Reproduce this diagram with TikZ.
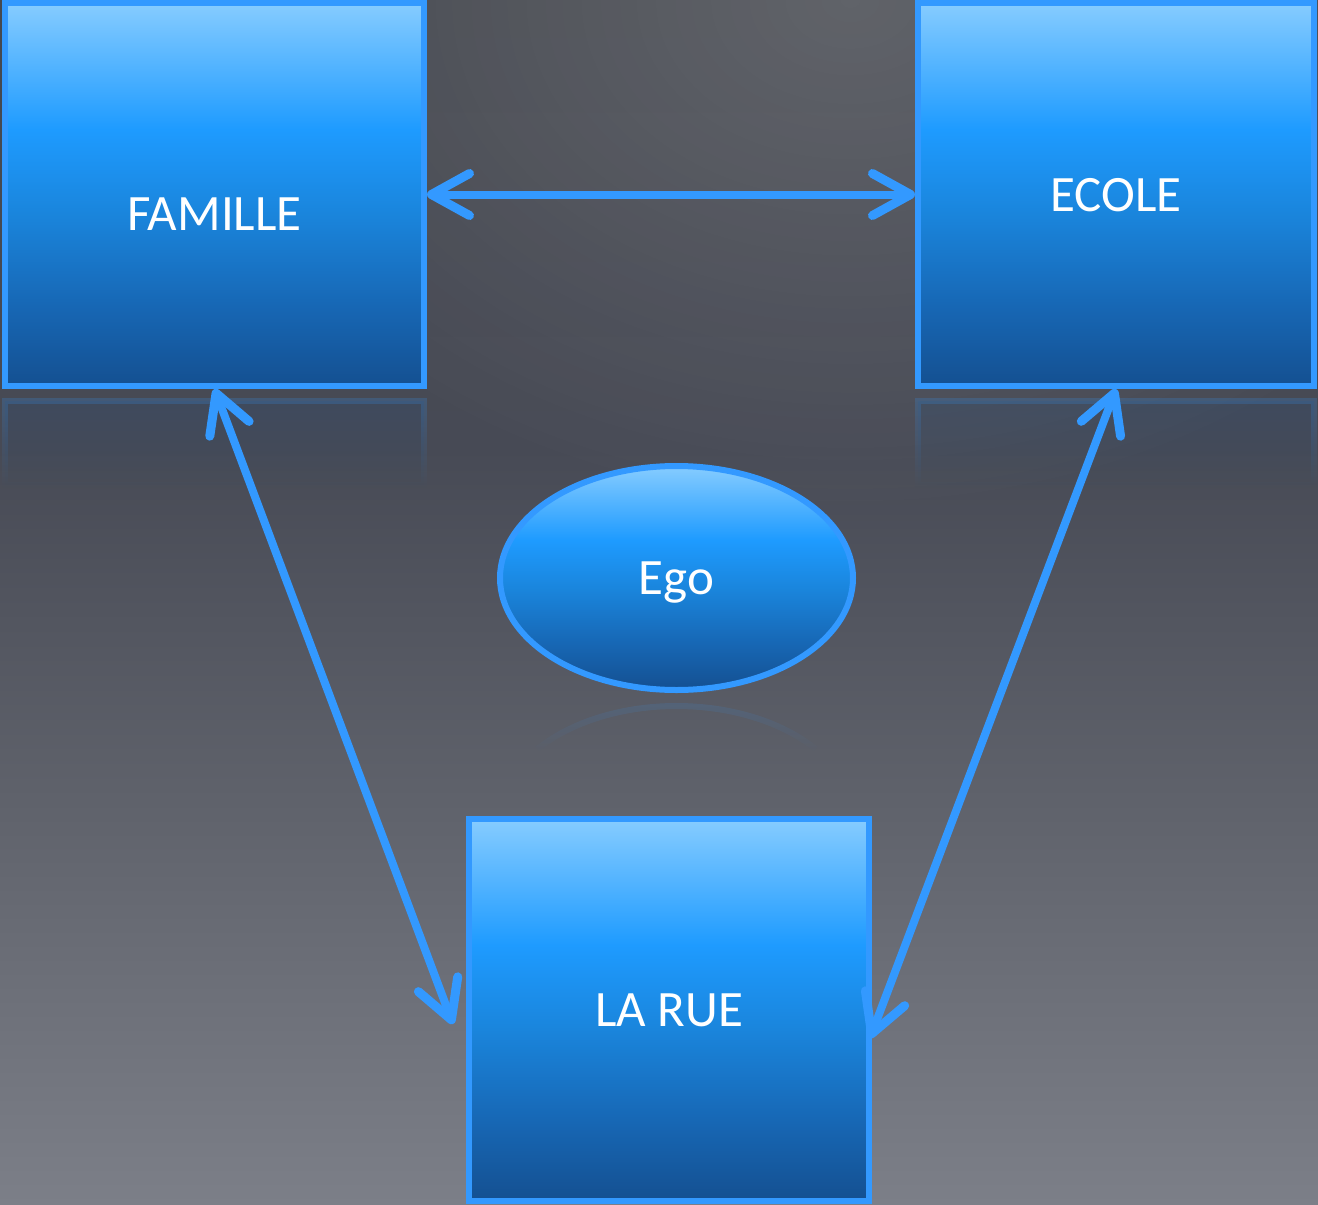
\documentclass[tikz,border=0pt]{standalone}
\usepackage{fontspec}
\setmainfont{Carlito}
\usetikzlibrary{arrows.meta,shapes.geometric,fadings,calc}

\definecolor{bgtop}{HTML}{45484F}
\definecolor{bgmid}{HTML}{474A55}
\definecolor{bglow}{HTML}{5F626B}
\definecolor{bgbot}{HTML}{7C7F88}
\definecolor{edge}{HTML}{3399FF}
\definecolor{bxA}{HTML}{145091}
\definecolor{bxB}{HTML}{1766B3}
\definecolor{bxC}{HTML}{1A85DC}
\definecolor{bxD}{HTML}{1E9BFF}
\definecolor{bxE}{HTML}{5AB7FF}
\definecolor{bxF}{HTML}{86CCFF}

\pgfdeclareverticalshading{bgshade}{100bp}{color(0bp)=(bgbot); color(25bp)=(bgbot); color(41.8bp)=(bglow); color(56.4bp)=(bgmid); color(75bp)=(bgtop); color(100bp)=(bgtop)}
\pgfdeclareverticalshading{boxshade}{100bp}{color(0bp)=(bxA); color(25bp)=(bxA); color(35bp)=(bxB); color(47.5bp)=(bxC); color(58.5bp)=(bxD); color(68bp)=(bxE); color(75bp)=(bxF); color(100bp)=(bxF)}

\tikzfading[name=reflfade, top color=transparent!55, bottom color=transparent!100]
\tikzfading[name=spotfade, inner color=transparent!0, outer color=transparent!100]

\tikzset{
  box/.style={draw=edge, line width=3pt, shade, shading=boxshade, inner sep=0pt},
  lbl/.style={text=white, font=\fontsize{25.5}{30}\selectfont, inner sep=0pt, text height=16.5pt, text depth=0pt},
  conn/.style={draw=edge, line width=4pt, line cap=round, >={Straight Barb[length=19pt,width=21pt,round,line width=4.5pt]}, <->},
  refl/.style={draw=edge, line width=3pt, fill=bxA, fill opacity=0.35, draw opacity=0.45, path fading=reflfade}
}

\begin{document}
\begin{tikzpicture}[x=0.5pt,y=-0.5pt]
\useasboundingbox (0,0) rectangle (1318,1205);
% background
\shade[shading=bgshade] (0,0) rectangle (1318,1205);
\fill[white, opacity=0.15, path fading=spotfade] (850,0) ellipse [x radius=700, y radius=520];

% reflections
\path[refl] (5,401) rectangle (424,485);
\path[refl] (918,401) rectangle (1314,485);
\coordinate (egoref) at (676.5,818);
\draw[draw=edge, line width=3pt, draw opacity=0.3, path fading=reflfade]
  ([shift={(218:176.5 and 112)}]egoref) arc[start angle=218, end angle=322, x radius=176.5, y radius=112];

% boxes
\node[box, minimum width=209.5pt, minimum height=191.5pt,
      label={[lbl, yshift=-9.5pt]center:FAMILLE}] (famille) at (214.5,194.5) {};
\node[box, minimum width=198pt, minimum height=191.5pt,
      label={[lbl]center:ECOLE}] (ecole) at (1116,194.5) {};
\node[box, minimum width=200pt, minimum height=191pt,
      label={[lbl]center:LA RUE}] (larue) at (669,1010) {};
\node[box, ellipse, minimum width=176.5pt, minimum height=112pt,
      label={[lbl]center:Ego}] (ego) at (676.5,578) {};

% connectors
\draw[conn] (famille.east) -- (ecole.west);
\draw[conn] (famille.south) -- ([xshift=-6.5pt,yshift=-7pt]larue.west);
\draw[conn] (ecole.south) -- ([xshift=-1pt,yshift=-14pt]larue.east);
\end{tikzpicture}
\end{document}
